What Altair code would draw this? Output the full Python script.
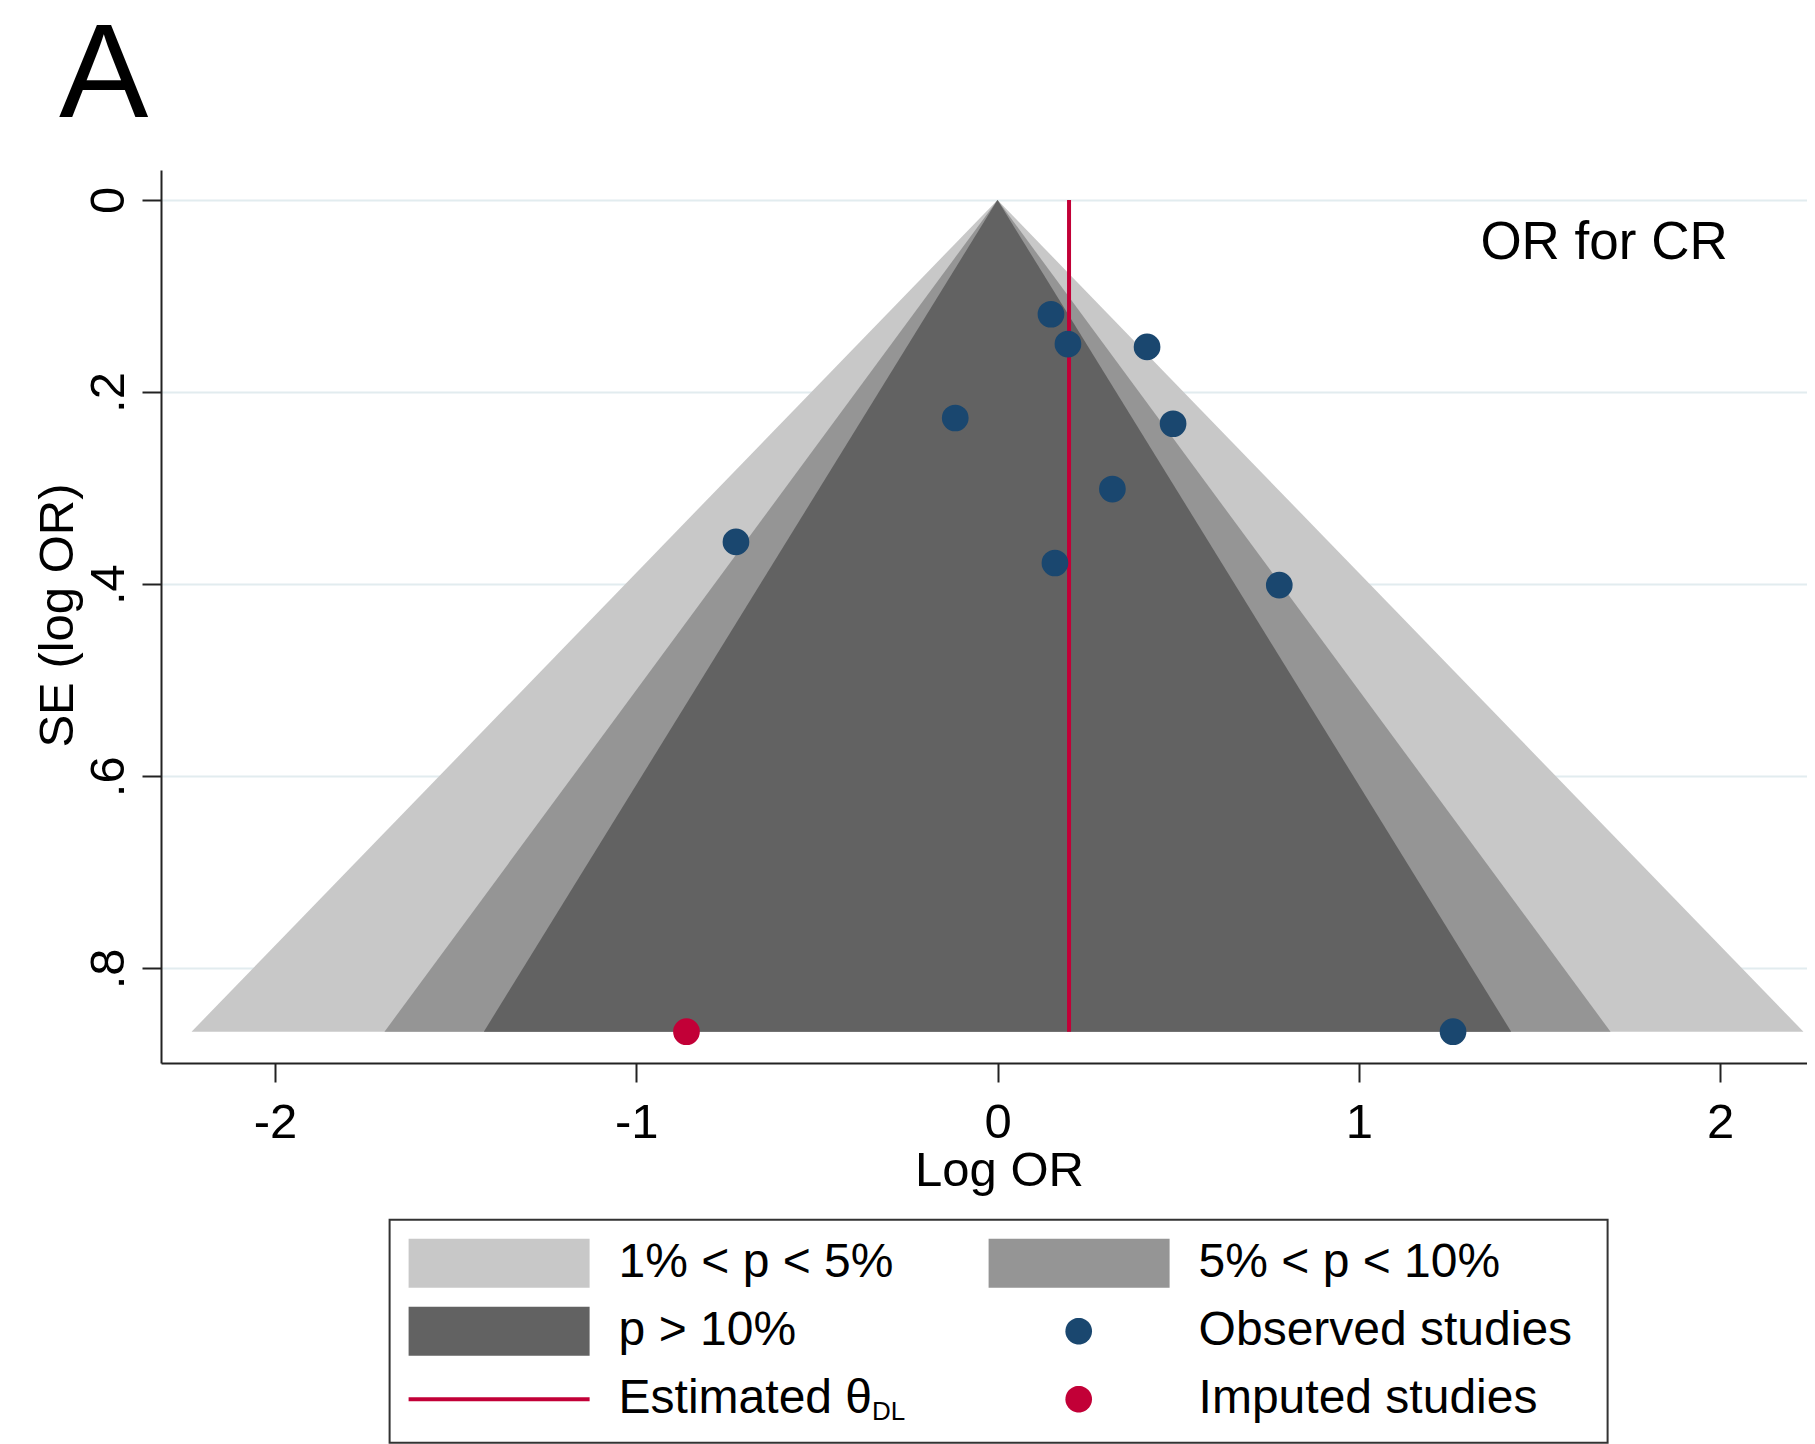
import math
import altair as alt
import pandas as pd

# ---------------- data ----------------
obs_x = [0.148, 0.195, 0.414, -0.117, 0.486, 0.318, -0.724, 0.159, 0.780, 1.261]
obs_se = [0.119, 0.150, 0.153, 0.227, 0.233, 0.301, 0.356, 0.378, 0.401, 0.866]
imp_x = [-0.861]
imp_se = [0.866]
theta_dl = 0.198
se_max = 0.866

region_names = ["1% < p < 5%", "5% < p < 10%", "p > 10%"]
region_halfwidth_at_se_max = [2.231, 1.697, 1.422]

# legend entries, listed column by column (left column first)
legend_order = ["1% < p < 5%", "p > 10%", "Estimated θ",
                "5% < p < 10%", "Observed studies", "Imputed studies"]
legend_colors = ["#c8c8c8", "#626262", "#c20037", "#959595", "#1a476f", "#c20037"]
color_of = dict(zip(legend_order, legend_colors))

x_ticks = [-2, -1, 0, 1, 2]
y_ticks = [0, 0.2, 0.4, 0.6, 0.8]

FONT = "Liberation Sans"

# ---------------- tables ----------------
funnel_rows = []
for name, w in zip(region_names, region_halfwidth_at_se_max):
    funnel_rows.append({"kind": name, "se": 0.0, "lo": 0.0, "hi": 0.0})
    funnel_rows.append({"kind": name, "se": se_max, "lo": -w, "hi": w})
funnel_df = pd.DataFrame(funnel_rows)

obs_df = pd.DataFrame({"x": obs_x, "se": obs_se})
imp_df = pd.DataFrame({"x": imp_x, "se": imp_se})
rule_df = pd.DataFrame({"x": [theta_dl], "y0": [0.0], "y1": [se_max]})

# ---------------- scales / axes ----------------
xs = alt.Scale(domain=[-2.3156, 2.2408], nice=False, zero=False)
ys = alt.Scale(domain=[-0.0312, 0.8986], nice=False, zero=False, reverse=True)

x_axis = alt.Axis(
    values=x_ticks, labelExpr="'' + datum.value", grid=False,
    tickSize=19, tickWidth=2, tickColor="#222222",
    domainColor="#222222", domainWidth=2,
    labelFont=FONT, labelFontSize=49, labelColor="black",
    labelBaseline="alphabetic", labelPadding=55, labelFlush=False, labelOverlap=False,
    title="Log OR", titleFont=FONT, titleFontSize=49, titleFontWeight="normal",
    titleColor="black", titleBaseline="alphabetic", titleAlign="center",
    titleX=838, titleY=122,
)
y_axis = alt.Axis(
    values=y_ticks,
    labelExpr="datum.value == 0 ? '0' : replace(format(datum.value, '.1f'), '0.', '.')",
    grid=True, gridColor="#e2ecef", gridWidth=2,
    tickSize=19, tickWidth=2, tickColor="#222222",
    domainColor="#222222", domainWidth=2,
    labelFont=FONT, labelFontSize=49, labelColor="black",
    labelAngle=270, labelAlign="center", labelBaseline="alphabetic",
    labelPadding=19, labelFlush=False, labelOverlap=False,
    title="SE (log OR)", titleFont=FONT, titleFontSize=49, titleFontWeight="normal",
    titleColor="black", titleAngle=270, titleBaseline="alphabetic", titleAlign="center",
    titleX=-89, titleY=445,
)

# ---------------- legend symbols ----------------
swatch_path = "M-1,-1H6.388V1H-1Z"
line_path = "M-1,-0.0816H6.388V0.0816H-1Z"
cx, r = 2.678, 0.543
pts = [(cx + r * math.cos(2 * math.pi * k / 48), r * math.sin(2 * math.pi * k / 48)) for k in range(48)]
dot_path = "M" + "L".join(f"{px:.4f},{py:.4f}" for px, py in pts) + "Z"
shape_of = {
    "1% < p < 5%": swatch_path, "5% < p < 10%": swatch_path, "p > 10%": swatch_path,
    "Observed studies": dot_path, "Estimated θ": line_path, "Imputed studies": dot_path,
}
shape_range = [shape_of[k] for k in legend_order]

legend_kwargs = dict(
    title=None, orient="none", legendX=228.6, legendY=1049.7,
    direction="vertical", columns=2, columnPadding=95, rowPadding=19, padding=19,
    symbolSize=2401, symbolStrokeWidth=0, symbolOffset=0,
    labelOffset=161, labelFont=FONT, labelFontSize=48, labelLimit=1000, labelColor="black",
    labelExpr="datum.label == 'Observed studies' ? datum.label + '\u2004\u200b' : datum.label",
    strokeColor="#333333",
)

# ---------------- layers ----------------
layers = []
for i, name in enumerate(region_names):
    enc = dict(
        y=alt.Y("se:Q", scale=ys, axis=y_axis) if i == 0 else alt.Y("se:Q", scale=ys),
        x=alt.X("lo:Q", scale=xs, axis=x_axis) if i == 0 else alt.X("lo:Q", scale=xs),
        x2="hi:Q",
    )
    layers.append(
        alt.Chart(funnel_df)
        .transform_filter(alt.datum.kind == name)
        .mark_area(orient="horizontal", opacity=1, color=color_of[name])
        .encode(**enc)
    )

layers.append(
    alt.Chart(rule_df).mark_rule(strokeWidth=4, color=color_of["Estimated θ"]).encode(
        x=alt.X("x:Q", scale=xs),
        y=alt.Y("y0:Q", scale=ys),
        y2="y1:Q",
    )
)

layers.append(
    alt.Chart(obs_df).mark_circle(size=713, opacity=1, color=color_of["Observed studies"]).encode(
        x=alt.X("x:Q", scale=xs),
        y=alt.Y("se:Q", scale=ys),
    )
)
layers.append(
    alt.Chart(imp_df).mark_circle(size=713, opacity=1, color=color_of["Imputed studies"]).encode(
        x=alt.X("x:Q", scale=xs),
        y=alt.Y("se:Q", scale=ys),
    )
)

# legend-only layer (no rows, explicit domains)
layers.append(
    alt.Chart(alt.Data(values=[])).mark_point(filled=True, opacity=1).encode(
        color=alt.Color("kind:N", scale=alt.Scale(domain=legend_order, range=legend_colors),
                        legend=alt.Legend(**legend_kwargs)),
        shape=alt.Shape("kind:N", scale=alt.Scale(domain=legend_order, range=shape_range),
                        legend=alt.Legend(**legend_kwargs)),
    )
)

ann_df = pd.DataFrame({"x": [1.3367], "y": [0.0611], "t": ["OR for CR"]})
layers.append(
    alt.Chart(ann_df).mark_text(align="left", baseline="alphabetic", fontSize=53,
                                font=FONT, color="black").encode(
        x=alt.X("x:Q", scale=xs),
        y=alt.Y("y:Q", scale=ys),
        text="t:N",
    )
)

panel_df = pd.DataFrame({"t": ["A"]})
layers.append(
    alt.Chart(panel_df).mark_text(align="left", baseline="alphabetic", fontSize=134,
                                  font=FONT, color="black").encode(
        x=alt.value(-102), y=alt.value(-53), text="t:N"
    )
)

sub_df = pd.DataFrame({"t": ["DL"]})
layers.append(
    alt.Chart(sub_df).mark_text(align="left", baseline="alphabetic", fontSize=26,
                                font=FONT, color="black").encode(
        x=alt.value(711), y=alt.value(1250), text="t:N"
    )
)

chart = (
    alt.layer(*layers)
    .properties(
        width=1646, height=893,
        autosize=alt.AutoSizeParams(type="none"),
        padding={"left": 153, "top": 162, "right": 0, "bottom": 381},
    )
    .configure(font=FONT)
    .configure_view(stroke=None)
    .configure_legend(strokeWidth=2)
)

chart.save("out.html", embed_options={"renderer": "svg", "actions": False})
